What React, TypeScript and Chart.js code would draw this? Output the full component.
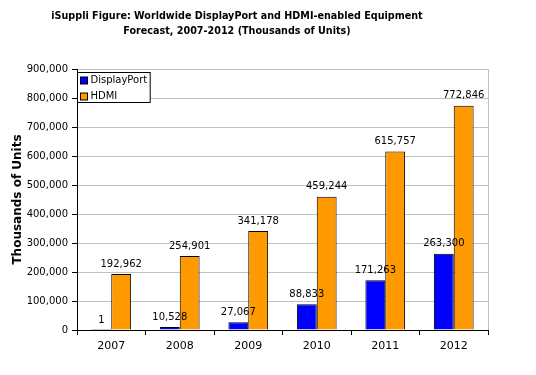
import React, { useEffect, useRef } from "react";
import { Chart, registerables } from "chart.js";

Chart.register(...registerables);

const years = ["2007", "2008", "2009", "2010", "2011", "2012"];
const displayPort = [1, 10528, 27067, 88833, 171263, 263300];
const hdmi = [192962, 254901, 341178, 459244, 615757, 772846];
const titleLines = [
  "iSuppli Figure: Worldwide DisplayPort and HDMI-enabled Equipment",
  "Forecast, 2007-2012 (Thousands of Units)",
];
const yTitle = "Thousands of Units";

const FONT = "'DejaVu Sans', Verdana, sans-serif";
const fmt = (v: number) => v.toLocaleString("en-US");

const titlePlugin = {
  id: "customTitle",
  afterDraw(chart: any) {
    const ctx = chart.ctx;
    ctx.save();
    ctx.fillStyle = "#000";
    ctx.font = `bold 10.7px 'DejaVu Sans Condensed', ${FONT}`;
    ctx.textAlign = "center";
    ctx.textBaseline = "middle";
    ctx.fillText(titleLines[0], 237, 16);
    ctx.fillText(titleLines[1], 237, 31);
    ctx.restore();
  },
};

const borderPlugin = {
  id: "plotBorder",
  beforeDatasetsDraw(chart: any) {
    const { ctx, chartArea } = chart;
    ctx.save();
    ctx.strokeStyle = "#c0c0c0";
    ctx.lineWidth = 1;
    ctx.beginPath();
    ctx.moveTo(Math.round(chartArea.right) + 0.5, chartArea.top);
    ctx.lineTo(Math.round(chartArea.right) + 0.5, chartArea.bottom);
    ctx.stroke();
    ctx.restore();
  },
};

const labelPlugin = {
  id: "valueLabels",
  afterDatasetsDraw(chart: any) {
    const ctx = chart.ctx;
    ctx.save();
    ctx.fillStyle = "#000";
    ctx.font = `10px ${FONT}`;
    ctx.textAlign = "center";
    ctx.textBaseline = "bottom";
    chart.data.datasets.forEach((ds: any, i: number) => {
      const meta = chart.getDatasetMeta(i);
      meta.data.forEach((el: any, j: number) => {
        ctx.fillText(fmt(ds.data[j]), el.x, el.y - 5);
      });
    });
    ctx.restore();
  },
};

const legendPlugin = {
  id: "boxLegend",
  afterDraw(chart: any) {
    const { ctx, chartArea } = chart;
    const x = Math.round(chartArea.left) + 0.5;
    const y = 72.5;
    ctx.save();
    ctx.font = `10px ${FONT}`;
    const labels = chart.data.datasets.map((d: any) => d.label);
    const tw = Math.max(...labels.map((l: string) => ctx.measureText(l).width));
    const w = tw + 16;
    const h = 30;
    ctx.fillStyle = "#fff";
    ctx.fillRect(x, y, w, h);
    ctx.strokeStyle = "#000";
    ctx.lineWidth = 1;
    ctx.strokeRect(x, y, w, h);
    chart.data.datasets.forEach((d: any, i: number) => {
      const cy = y + 8 + i * 16;
      ctx.fillStyle = d.backgroundColor;
      ctx.fillRect(x + 3, cy - 3.5, 7, 7);
      ctx.strokeStyle = "#000";
      ctx.strokeRect(x + 3, cy - 3.5, 7, 7);
      ctx.fillStyle = "#000";
      ctx.textAlign = "left";
      ctx.textBaseline = "middle";
      ctx.fillText(d.label, x + 13, cy);
    });
    ctx.restore();
  },
};

export default function App() {
  const ref = useRef<HTMLCanvasElement>(null);
  useEffect(() => {
    if (!ref.current) return;
    const chart = new Chart(ref.current, {
      type: "bar",
      data: {
        labels: years,
        datasets: [
          {
            label: "DisplayPort",
            data: displayPort,
            backgroundColor: "#0000ff",
            borderColor: "#000",
            borderWidth: 1,
            categoryPercentage: 0.58,
            barPercentage: 1,
          },
          {
            label: "HDMI",
            data: hdmi,
            backgroundColor: "#ff9900",
            borderColor: "#000",
            borderWidth: 1,
            categoryPercentage: 0.58,
            barPercentage: 1,
          },
        ],
      },
      options: {
        responsive: false,
        animation: false,
        devicePixelRatio: 1,
        layout: { padding: { top: 69, right: 48, left: 0, bottom: 0 } },
        plugins: {
          legend: { display: false },
          title: { display: false },
          tooltip: { enabled: false },
        },
        scales: {
          x: {
            afterFit: (s: any) => {
              s.height = 45;
            },
            grid: {
              offset: true,
              drawOnChartArea: false,
              drawTicks: true,
              tickLength: 5,
              color: "#000",
            },
            border: { color: "#000", width: 1 },
            ticks: {
              color: "#000",
              font: { family: FONT, size: 11 },
              padding: 5,
            },
          },
          y: {
            min: 0,
            max: 900000,
            afterFit: (s: any) => {
              s.width = 77;
            },
            ticks: {
              stepSize: 100000,
              color: "#000",
              font: { family: FONT, size: 10 },
              padding: 4,
              callback: (v: any) => fmt(Number(v)),
            },
            grid: {
              color: "#c0c0c0",
              tickColor: "#000",
              tickLength: 5,
            },
            border: { color: "#000", width: 1 },
            title: {
              display: true,
              text: yTitle,
              color: "#000",
              font: { family: FONT, size: 12, weight: "bold" },
              padding: { top: 11, bottom: 0 },
            },
          },
        },
      },
      plugins: [titlePlugin, borderPlugin, labelPlugin, legendPlugin],
    });
    return () => chart.destroy();
  }, []);
  return (
    <div style={{ position: "fixed", left: 0, top: 0, width: 536, height: 375, background: "#fff" }}>
      <canvas ref={ref} width={536} height={375} />
    </div>
  );
}
